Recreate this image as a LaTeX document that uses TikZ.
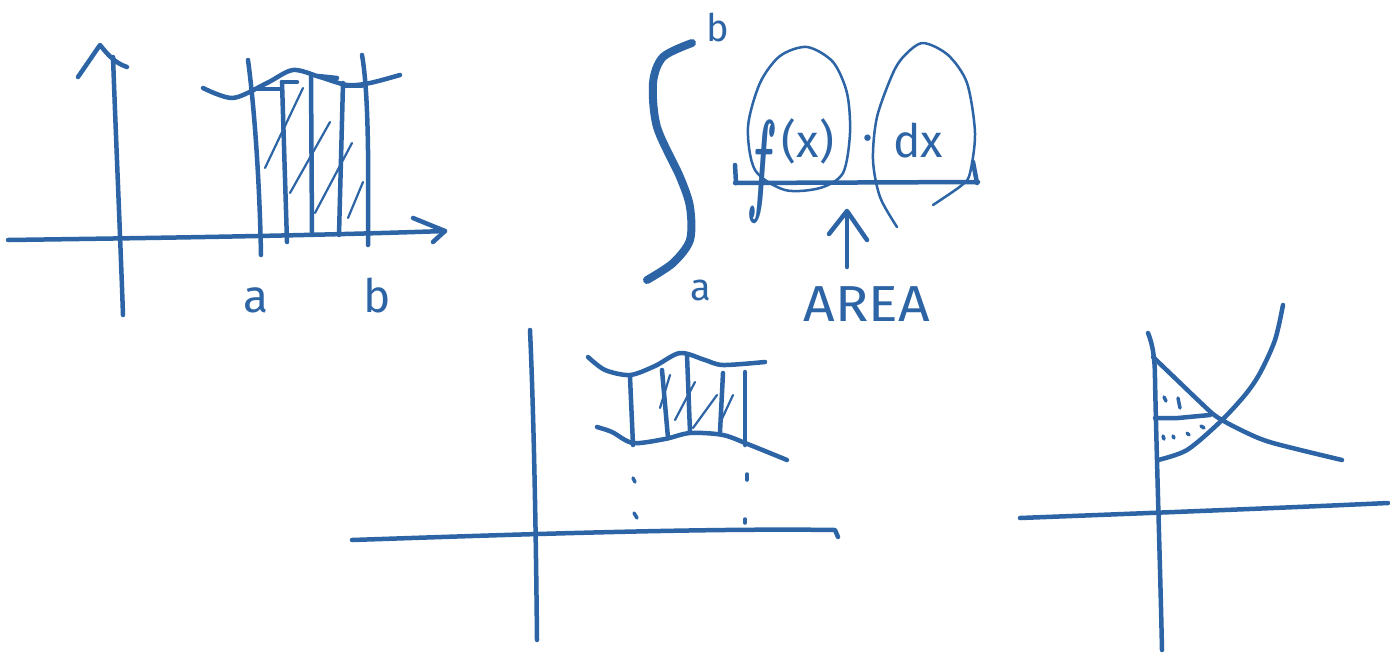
\documentclass[tikz,border=0pt]{standalone}
\usepackage{fontspec}
\setmainfont{Fira Sans}
\newfontfamily\lmfam{Latin Modern Roman}
\definecolor{inkblue}{RGB}{44,100,165}
\tikzset{
  ink/.style={draw=inkblue, line width=4.5pt, line cap=round, line join=round},
  thinink/.style={draw=inkblue, line width=2.5pt, line cap=round, line join=round},
  dotink/.style={draw=inkblue, line width=3.5pt, line cap=round},
  heavyink/.style={draw=inkblue, line width=8pt, line cap=round, line join=round},
  hatchline/.style={draw=inkblue, line width=2.2pt, line cap=round},
  label/.style={text=inkblue, inner sep=0pt, font=\fontsize{46}{50}\selectfont},
  smalllabel/.style={text=inkblue, inner sep=0pt, font=\fontsize{38}{40}\selectfont},
}
\begin{document}
\begin{tikzpicture}[x=1pt,y=-1pt]
\useasboundingbox (0,0) rectangle (1390,654);
\fill[white] (0,0) rectangle (1390,654);

% ---------- Panel 1: rectangles under a curve ----------
\draw[ink] (113,57) .. controls (116,140) and (120,230) .. (123,315);
\draw[ink] (78,77) -- (100,45) .. controls (108,55) and (115,63) .. (127,67);
\draw[ink] (8,240) .. controls (150,238) and (300,236) .. (445,231);
\draw[ink] (413,218) -- (445,231) -- (433,242);
\draw[ink] plot[smooth] coordinates {(203,88) (233,98) (267,83) (293,70) (320,77) (347,85) (370,83) (400,75)};
\draw[ink] (248,60) .. controls (256,120) and (260,200) .. (261,255);
\draw[ink] (362,55) .. controls (370,100) and (368,200) .. (368,245);
\draw[ink] (282,82) -- (287,242);
\draw[ink] (257,89) -- (280,89);
\draw[ink] (282,82) -- (297,82);
\draw[ink] (311,75) -- (312,233);
\draw[ink] (318,76) -- (337,78);
\draw[ink] (343,83) -- (339,235);
\draw[ink] (345,86) -- (362,86);
\draw[hatchline] (303,88) -- (265,168);
\draw[hatchline] (330,122) -- (290,193);
\draw[hatchline] (352,143) -- (315,213);
\draw[hatchline] (363,182) -- (348,218);
\node[label] (la) at (256,300) {a};
\node[label] (lb) at (377,296) {b};

% ---------- Panel 2: integral ----------
\draw[heavyink] plot[smooth] coordinates {(692,43) (663,57) (653,83) (657,127) (680,177) (690,207) (690,240) (673,263) (647,280)};
\node[smalllabel] (ib) at (718,27) {b};
\node[smalllabel] (ia) at (701,290) {a};
\draw[ink] (735,183) -- (978,182);
\draw[ink] (735,165) -- (736,183);
\draw[ink] (973,162) -- (977,183);
% circled factors
\draw[thinink] plot[smooth cycle] coordinates {(807,47) (833,62) (847,93) (850,133) (843,173) (820,188) (785,190) (755,170) (748,127) (760,83) (780,56)};
\draw[thinink] plot[smooth] coordinates {(933,205) (962,185) (970,173) (975,133) (967,83) (948,55) (923,43) (905,55) (893,73) (877,117) (873,160) (880,197) (897,227)};
\node[text=inkblue, inner sep=0pt, font=\lmfam\bfseries\itshape\fontsize{46}{50}\selectfont] (ff) at (760,172) {\scalebox{1.0}[2.5]{f}};
\node[label, anchor=base] (px) at (808,157) {(x)};
\node[label, anchor=base] (pdot) at (868,152) {·};
\node[label, anchor=base] (pdx) at (918,157) {dx};
% arrow to AREA
\draw[ink] (847,267) -- (847,212);
\draw[ink] (829,234) -- (847,211) -- (867,240);
\node[label] (area) at (867,304) {\scalebox{1.2}[1.1]{AREA}};

% ---------- Panel 3: region between two curves ----------
\draw[ink] (530,330) .. controls (534,420) and (536,540) .. (537,640);
\draw[ink] (352,540) .. controls (500,535) and (700,528) .. (835,530) -- (838,537);
\draw[ink] plot[smooth] coordinates {(588,357) (605,370) (630,375) (655,366) (680,353) (705,360) (723,365) (765,362)};
\draw[ink] plot[smooth] coordinates {(597,427) (612,432) (633,443) (665,439) (690,433) (723,435) (750,445) (787,460)};
\draw[ink] (630,377) -- (633,445);
\draw[ink] (662,370) -- (668,438);
\draw[ink] (687,355) -- (690,432);
\draw[ink] (723,373) -- (720,432);
\draw[ink] (745,372) -- (745,445);
\draw[hatchline] (670,375) -- (660,408);
\draw[hatchline] (695,382) -- (675,420);
\draw[hatchline] (717,395) -- (693,428);
\draw[hatchline] (733,395) -- (720,423);
\draw[dotink] (633,478) -- (635,482);
\draw[dotink] (634,513) -- (637,518);
\draw[dotink] (747,474) -- (747,480);
\draw[dotink] (745,519) -- (745,523);

% ---------- Panel 4: two crossing curves ----------
\draw[ink] (1148,333) .. controls (1153,345) and (1155,360) .. (1155,380) .. controls (1157,470) and (1160,560) .. (1162,650);
\draw[ink] (1020,518) .. controls (1150,513) and (1280,508) .. (1388,503);
\draw[ink] plot[smooth] coordinates {(1153,357) (1177,380) (1200,402) (1217,417) (1245,432) (1273,443) (1342,460)};
\draw[ink] plot[smooth] coordinates {(1158,460) (1187,450) (1220,422) (1245,395) (1260,373) (1275,340) (1283,305)};
\draw[ink] (1155,418) -- (1178,418) -- (1210,415);
\draw[dotink] (1164,397) -- (1166,401);
\draw[dotink] (1178,398) -- (1180,408);
\draw[dotink] (1163,436) -- (1164,439);
\draw[dotink] (1173,436) -- (1174,438);
\draw[dotink] (1187,433) -- (1189,435);
\draw[dotink] (1201,426) -- (1204,428);
\end{tikzpicture}
\end{document}
